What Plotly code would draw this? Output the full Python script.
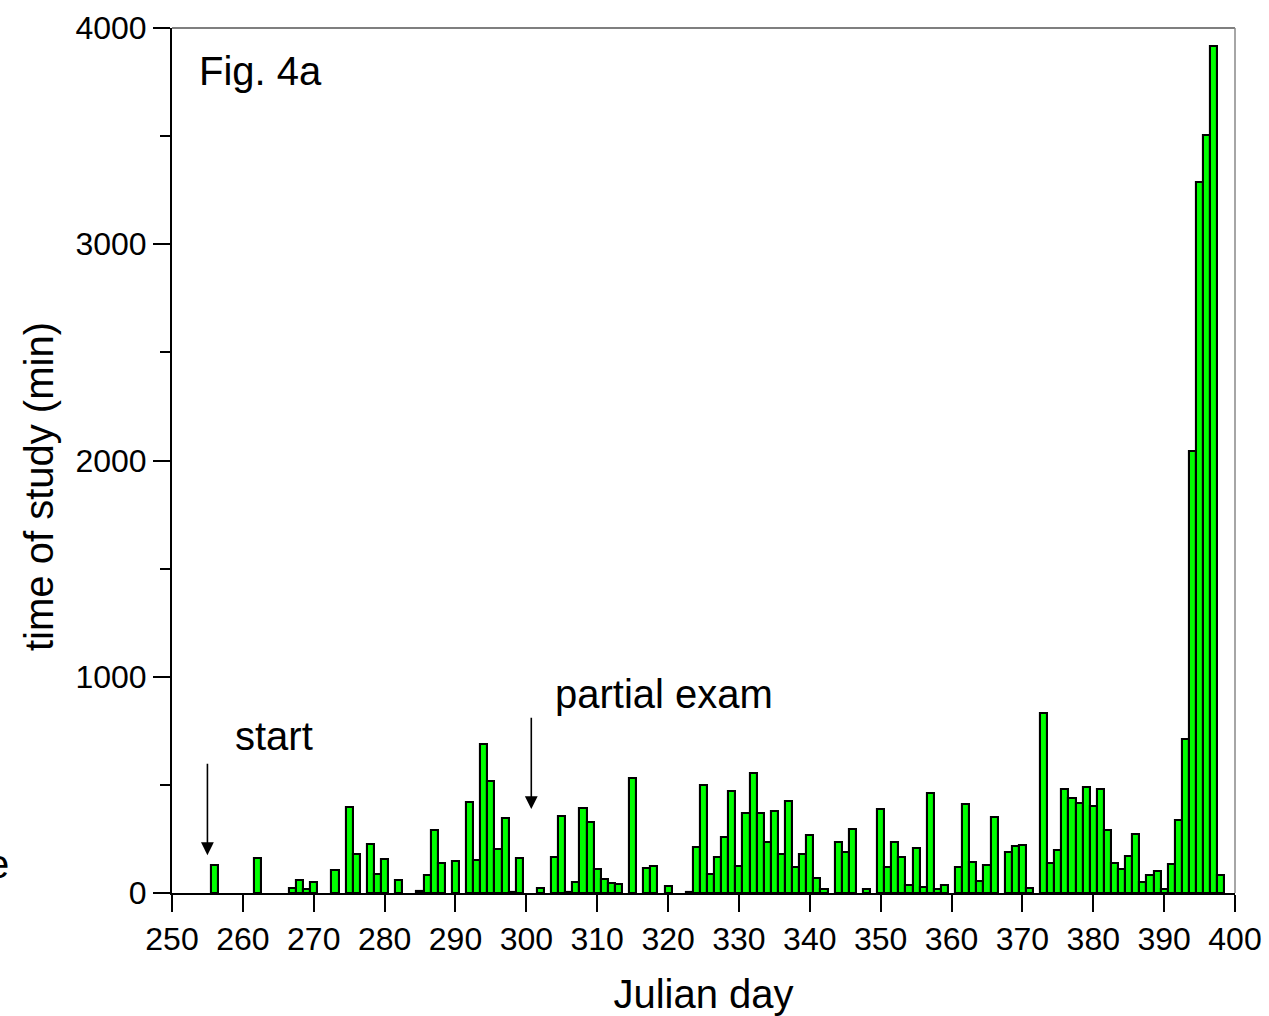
import plotly.graph_objects as go

# Daily study time (minutes) by Julian day; days without study are omitted
days = [256, 262, 267, 268, 269, 270, 273, 275, 276, 278, 279, 280, 282, 285, 286,
        287, 288, 290, 292, 293, 294, 295, 296, 297, 298, 299, 302, 304, 305, 306,
        307, 308, 309, 310, 311, 312, 313, 315, 317, 318, 320, 323, 324, 325, 326,
        327, 328, 329, 330, 331, 332, 333, 334, 335, 336, 337, 338, 339, 340, 341,
        342, 344, 345, 346, 348, 350, 351, 352, 353, 354, 355, 356, 357, 358, 359,
        361, 362, 363, 364, 365, 366, 368, 369, 370, 371, 373, 374, 375, 376, 377,
        378, 379, 380, 381, 382, 383, 384, 385, 386, 387, 388, 389, 390, 391, 392,
        393, 394, 395, 396, 397, 398]
minutes = [128, 162, 23, 59, 20, 51, 105, 398, 179, 225, 90, 159, 59, 8, 83,
           290, 139, 148, 421, 151, 688, 518, 202, 347, 5, 160, 23, 167, 355, 5,
           51, 392, 327, 110, 65, 48, 40, 534, 116, 123, 31, 5, 213, 500, 86,
           167, 258, 472, 127, 370, 553, 370, 234, 378, 179, 424, 119, 179, 268, 68,
           17, 234, 188, 298, 20, 389, 120, 238, 167, 36, 207, 26, 462, 20, 39,
           119, 410, 142, 57, 128, 351, 190, 219, 224, 25, 831, 139, 200, 483, 439,
           418, 492, 404, 483, 293, 140, 113, 171, 271, 51, 83, 103, 20, 133, 336,
           711, 2043, 3288, 3504, 3918, 83]

x_ticks = list(range(250, 401, 10))
y_ticks = [0, 1000, 2000, 3000, 4000]

FONT = "Liberation Sans, Arial, sans-serif"

fig = go.Figure()
fig.add_trace(go.Bar(
    x=days, y=minutes, width=1.0,
    marker=dict(color="#00ff00", line=dict(color="black", width=2.1)),
    showlegend=False,
))

fig.update_layout(
    width=1269, height=1016,
    margin=dict(l=172, r=34, t=28, b=123, autoexpand=False),
    paper_bgcolor="white", plot_bgcolor="white",
    font=dict(family=FONT, color="black"),
    bargap=0,
    xaxis=dict(
        range=[250, 400], tickvals=x_ticks, ticktext=[str(v) for v in x_ticks],
        ticks="outside", ticklen=17, tickwidth=2, tickcolor="black",
        showline=True, linewidth=2, linecolor="black", showgrid=False, zeroline=False,
        automargin=False,
        tickfont=dict(size=32, family=FONT),
        title=dict(text="Julian day", font=dict(size=40, family=FONT), standoff=24),
    ),
    yaxis=dict(
        range=[0, 4000], tickvals=y_ticks, ticktext=[str(v) for v in y_ticks],
        ticks="outside", ticklen=17, tickwidth=2, tickcolor="black",
        minor=dict(dtick=500, ticks="outside", ticklen=10, tickwidth=2, tickcolor="black"),
        showline=True, linewidth=2, linecolor="black", showgrid=False, zeroline=False,
        automargin=False,
        tickfont=dict(size=32, family=FONT),
    ),
)

# frame: thin black top edge, grey right edge
fig.add_shape(type="line", xref="paper", yref="paper", x0=0, x1=1, y0=1, y1=1,
              line=dict(color="black", width=1.2))
fig.add_shape(type="line", xref="paper", yref="paper", x0=1, x1=1, y0=0, y1=1,
              line=dict(color="#888888", width=1.5))

# y-axis title, set a little below the axis midpoint
fig.add_annotation(x=(39 - 172) / 1063, y=(893 - 487) / 865, xref="paper", yref="paper",
                   text="time of study (min)", showarrow=False, textangle=-90,
                   xanchor="center", yanchor="middle", font=dict(size=40, family=FONT))

# panel label and event markers
fig.add_annotation(x=253.5, y=3800, xref="x", yref="y", text="Fig. 4a", showarrow=False,
                   xanchor="left", yanchor="middle", font=dict(size=40, family=FONT))
fig.add_annotation(x=258.6, y=727, xref="x", yref="y", text="start", showarrow=False,
                   xanchor="left", yanchor="middle", font=dict(size=40, family=FONT))
fig.add_annotation(x=303.7, y=922, xref="x", yref="y", text="partial exam", showarrow=False,
                   xanchor="left", yanchor="middle", font=dict(size=40, family=FONT))
fig.add_annotation(x=255, y=175, ax=255, ay=605, xref="x", yref="y", axref="x", ayref="y",
                   text="", showarrow=True, arrowhead=2, arrowsize=1.6, arrowwidth=1.6,
                   arrowcolor="black")
fig.add_annotation(x=300.7, y=388, ax=300.7, ay=817, xref="x", yref="y", axref="x", ayref="y",
                   text="", showarrow=True, arrowhead=2, arrowsize=1.6, arrowwidth=1.6,
                   arrowcolor="black")

# clipped letter at the left page edge
fig.add_annotation(x=-0.151, y=0.033, xref="paper", yref="paper", text="e", showarrow=False,
                   xanchor="right", yanchor="middle", font=dict(size=40, family=FONT))

fig.write_html("out.html")
